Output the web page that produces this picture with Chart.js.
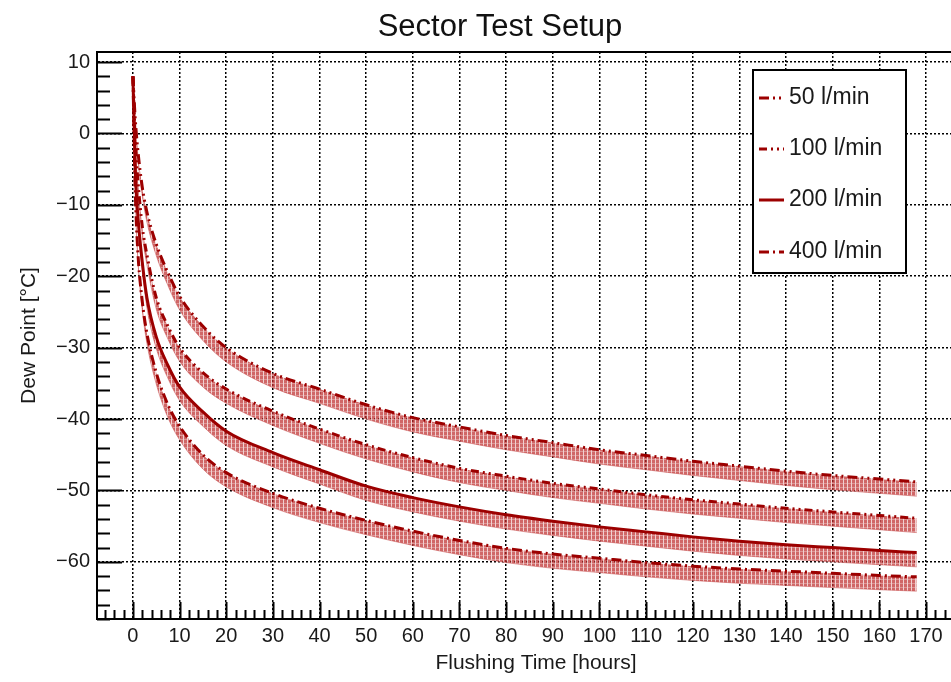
<!DOCTYPE html>
<html>
<head>
<meta charset="utf-8">
<script src="https://cdn.jsdelivr.net/npm/chart.js@4.4.1/dist/chart.umd.min.js"></script>
<style>
  html, body { margin: 0; padding: 0; overflow: hidden; background: #fff; }
  #wrap { width: 951px; height: 682px; overflow: hidden; }
</style>
</head>
<body>
<div id="wrap"><canvas id="myChart" width="975" height="682"></canvas></div>
<script>
// flushing time in hours
let hours = [0, 0.5, 1, 2, 3, 5, 7.5, 10, 15, 20, 30, 40, 50, 60, 70, 80, 90, 100, 110, 120, 130, 140, 150, 160, 168];

// dew point readings per flow rate
let flow50  = [8, 2, -2, -7.5, -11, -15.5, -19.5, -22.8, -27, -30, -33.6, -35.8, -38, -39.8, -41.1, -42.3, -43.3, -44.3, -45.1, -45.9, -46.6, -47.3, -47.9, -48.4, -48.8];
let flow100 = [8, -1, -6, -13, -17, -23, -27, -30, -33.5, -35.8, -38.9, -41.4, -43.6, -45.4, -46.9, -48.0, -49.0, -49.8, -50.6, -51.3, -51.9, -52.5, -53.0, -53.5, -53.9];
let flow200 = [8, -5, -11, -18, -23, -28.5, -32.5, -35.5, -39, -41.7, -44.7, -47.1, -49.4, -51.0, -52.3, -53.4, -54.3, -55.1, -55.8, -56.5, -57.1, -57.6, -58.0, -58.4, -58.7];
let flow400 = [8, -8, -16, -23.5, -28, -33.5, -38, -41, -45, -47.5, -50.4, -52.5, -54.2, -55.7, -57.0, -58.1, -58.9, -59.5, -60.1, -60.6, -61.0, -61.3, -61.6, -61.9, -62.1];

// width of the error band below each curve
let bandWidth = [0.5, 0.8, 1, 1.2, 1.4, 1.6, 1.8, 1.9, 2, 2, 2, 2, 2, 2, 2, 2, 2, 2, 2, 2, 2, 2, 2, 2, 2];

let seriesNames = ["50 l/min", "100 l/min", "200 l/min", "400 l/min"];
let seriesValues = [flow50, flow100, flow200, flow400];
let seriesDash = [[10, 4, 2, 4, 2, 4], [8, 4, 2, 4, 2, 4], [], [10, 4, 2, 4]];

let xTicks = [0, 10, 20, 30, 40, 50, 60, 70, 80, 90, 100, 110, 120, 130, 140, 150, 160, 170];
let yTicks = [-60, -50, -40, -30, -20, -10, 0, 10];

const lineRed = '#9c0000';
const canvas = document.getElementById('myChart');
const ctx0 = canvas.getContext('2d');

// hatched pink fill like the dense error-bar markers
function makeHatch() {
  const tile = document.createElement('canvas');
  tile.width = 4; tile.height = 4;
  const g = tile.getContext('2d');
  g.fillStyle = 'rgba(190, 45, 45, 0.72)';
  g.fillRect(0, 0, 4, 4);
  g.fillStyle = 'rgba(255, 255, 255, 0.7)';
  g.fillRect(3, 0, 1, 4);
  g.fillStyle = 'rgba(255, 255, 255, 0.3)';
  g.fillRect(0, 3, 3, 1);
  return ctx0.createPattern(tile, 'repeat');
}
const hatch = makeHatch();

function toPoints(vals) {
  return hours.map((h, i) => ({x: h, y: vals[i]}));
}

let datasets = [];
seriesValues.forEach((vals, i) => {
  datasets.push({
    label: seriesNames[i],
    data: toPoints(vals),
    borderColor: lineRed,
    borderWidth: 3,
    borderDash: seriesDash[i],
    pointRadius: 0,
    fill: false,
    cubicInterpolationMode: 'monotone'
  });
});
seriesValues.forEach((vals, i) => {
  datasets.push({
    label: seriesNames[i] + ' band',
    data: hours.map((h, k) => ({x: h, y: vals[k] - bandWidth[k]})),
    borderColor: 'rgba(200, 80, 80, 0.55)',
    borderWidth: 1,
    backgroundColor: hatch,
    pointRadius: 0,
    fill: {target: i},
    cubicInterpolationMode: 'monotone'
  });
});

function fmt(v) {
  return v < 0 ? '\u2212' + Math.abs(v) : String(v);
}

const decor = {
  id: 'decor',
  afterDraw(chart) {
    const {ctx, chartArea: a, scales: {x, y}} = chart;
    ctx.save();
    ctx.strokeStyle = '#000';
    ctx.lineWidth = 2;
    ctx.setLineDash([]);

    // top frame
    ctx.beginPath();
    ctx.moveTo(a.left, a.top);
    ctx.lineTo(a.right, a.top);
    ctx.stroke();

    // inward ticks, y axis
    ctx.beginPath();
    for (let v = -68; v <= 11; v += 2) {
      const py = Math.round(y.getPixelForValue(v)) + 0.5;
      const len = v % 10 === 0 ? 25 : 13;
      ctx.moveTo(a.left, py);
      ctx.lineTo(a.left + len, py);
    }
    // inward ticks, x axis
    for (let v = -6; v <= 180; v += 2) {
      const px = Math.round(x.getPixelForValue(v)) + 0.5;
      const len = v % 10 === 0 ? 17 : 9;
      ctx.moveTo(px, a.bottom);
      ctx.lineTo(px, a.bottom - len);
    }
    ctx.stroke();

    // title
    ctx.fillStyle = '#111';
    ctx.font = '31px "Liberation Sans", Arial, sans-serif';
    ctx.textAlign = 'center';
    ctx.textBaseline = 'alphabetic';
    ctx.fillText('Sector Test Setup', 500, 36);

    // legend box
    const bx = 753, by = 70, bw = 153, bh = 203;
    ctx.fillStyle = '#fff';
    ctx.fillRect(bx, by, bw, bh);
    ctx.lineWidth = 2;
    ctx.strokeRect(bx, by, bw, bh);
    const rows = [98, 149, 200, 252];
    ctx.font = '23px "Liberation Sans", Arial, sans-serif';
    ctx.textAlign = 'left';
    ctx.textBaseline = 'middle';
    seriesNames.forEach((name, i) => {
      ctx.strokeStyle = lineRed;
      ctx.lineWidth = 3;
      ctx.setLineDash(seriesDash[i]);
      ctx.beginPath();
      ctx.moveTo(759, rows[i]);
      ctx.lineTo(784, rows[i]);
      ctx.stroke();
      ctx.setLineDash([]);
      ctx.fillStyle = '#1a1a1a';
      ctx.fillText(name, 789, rows[i]);
    });
    ctx.restore();
  }
};

new Chart(canvas, {
  type: 'line',
  data: {datasets: datasets},
  options: {
    responsive: false,
    animation: false,
    devicePixelRatio: 1,
    layout: {padding: {top: 52, left: 0, right: 0, bottom: 0}},
    plugins: {
      legend: {display: false},
      title: {display: false},
      tooltip: {enabled: false}
    },
    scales: {
      x: {
        type: 'linear',
        min: -7.7,
        max: 180.5,
        afterFit(scale) { scale.height = 63; },
        afterBuildTicks(scale) { scale.ticks = xTicks.map(v => ({value: v})); },
        grid: {color: '#000', lineWidth: 1.5, drawTicks: false},
        border: {display: true, color: '#000', width: 2, dash: [2, 2]},
        ticks: {
          padding: 5,
          color: '#1a1a1a',
          maxRotation: 0,
          autoSkip: false,
          font: {family: '"Liberation Sans", Arial, sans-serif', size: 20},
          callback: v => fmt(v)
        },
        title: {
          display: true,
          text: 'Flushing Time [hours]',
          color: '#1a1a1a',
          font: {family: '"Liberation Sans", Arial, sans-serif', size: 21},
          padding: {top: 0, bottom: 6}
        }
      },
      y: {
        type: 'linear',
        min: -68,
        max: 11.4,
        afterFit(scale) { scale.width = 97; },
        afterBuildTicks(scale) { scale.ticks = yTicks.map(v => ({value: v})); },
        grid: {color: '#000', lineWidth: 1.5, drawTicks: false},
        border: {display: true, color: '#000', width: 2, dash: [2, 2]},
        ticks: {
          padding: 7,
          color: '#1a1a1a',
          autoSkip: false,
          font: {family: '"Liberation Sans", Arial, sans-serif', size: 20},
          callback: v => fmt(v)
        },
        title: {
          display: true,
          text: 'Dew Point [\u00B0C]',
          color: '#1a1a1a',
          font: {family: '"Liberation Sans", Arial, sans-serif', size: 21},
          padding: {top: 17, bottom: 0}
        }
      }
    }
  },
  plugins: [decor]
});
</script>
</body>
</html>
